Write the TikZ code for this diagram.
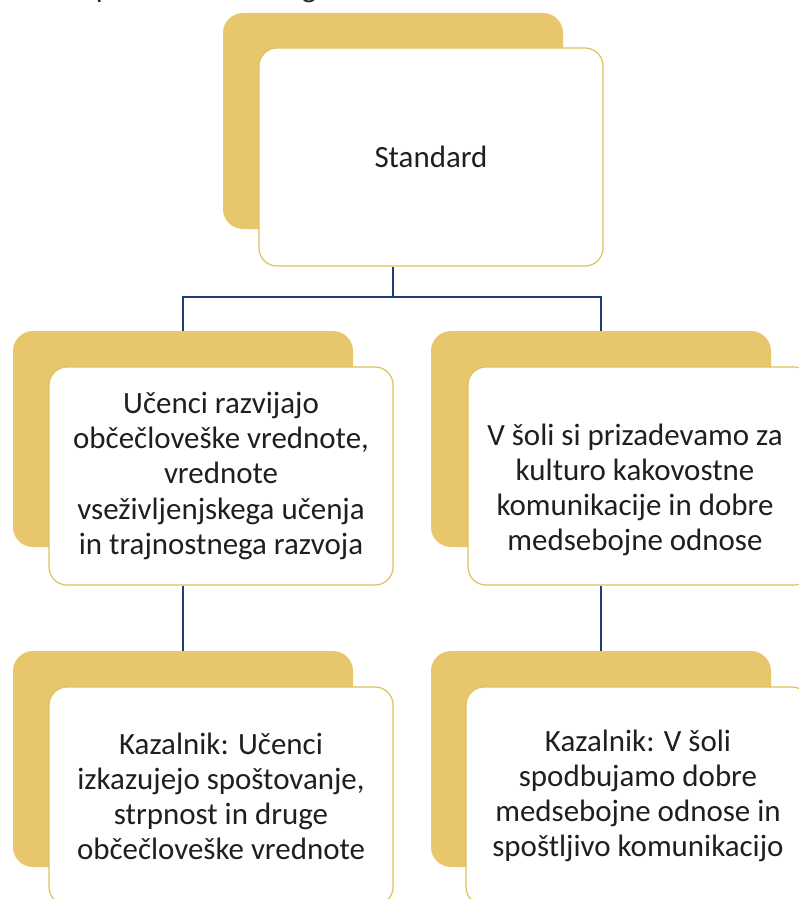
\documentclass[tikz,border=0pt]{standalone}
\usepackage{fontspec}
\setmainfont{Carlito}
\definecolor{cardgold}{RGB}{232,198,108}
\definecolor{cardline}{RGB}{222,194,92}
\definecolor{linkblue}{RGB}{30,62,120}
\begin{document}
\begin{tikzpicture}[x=0.75pt,y=-0.75pt]
	\tikzstyle{backcard}=[fill=cardgold, rounded corners=15pt, minimum width=255pt, minimum height=162pt, inner sep=0pt]
	\tikzstyle{card}=[draw=cardline, line width=0.9pt, fill=white, rounded corners=13.5pt, minimum width=258pt, minimum height=163.5pt, inner sep=0pt, align=center, text=black!88, font=\fontsize{23.2pt}{26.3pt}\selectfont]
	\tikzstyle{link}=[draw=linkblue, line width=1.6pt]
	\useasboundingbox (0,0) rectangle (799,899);
	\clip (0,0) rectangle (799,899);
	% heading, cut off by the page edge
	\node[anchor=base east, inner sep=0pt, text=black!85, font=\fontsize{23.2pt}{26pt}\selectfont] (heading) at (332,-2) {Kazalnik prednostne naloge};
	% standard
	\node[backcard] (stdback) at (393,121) {};
	\node[card] (std) at (431,157) {Standard};
	% goals
	\node[backcard] (goalaback) at (183,439) {};
	\node[card] (goala) at (221,476) {Učenci razvijajo\\občečloveške vrednote,\\vrednote\\vseživljenjskega učenja\\in trajnostnega razvoja};
	\node[backcard] (goalbback) at (601,439) {};
	\node[card] (goalb) at (640,476) {};
	\node[align=center, inner sep=0pt, text=black!88, font=\fontsize{23.2pt}{26.3pt}\selectfont] (goalbtext) at (635,490) {V šoli si prizadevamo za\\kulturo kakovostne\\komunikacije in dobre\\medsebojne odnose};
	% indicators
	\node[backcard] (indaback) at (183,759) {};
	\node[card] (inda) at (221,796) {Kazalnik: Učenci\\izkazujejo spoštovanje,\\strpnost in druge\\občečloveške vrednote};
	\node[backcard] (indbback) at (601,759) {};
	\node[card] (indb) at (638,796) {Kazalnik: V šoli\\spodbujamo dobre\\medsebojne odnose in\\spoštljivo komunikacijo};
	% connectors
	\coordinate (bus) at (393,297);
	\draw[link] (std.south -| bus) -- (bus);
	\draw[link] (goalaback.north) |- (bus) -| (goalbback.north);
	\draw[link] (goala.south -| goalaback) -- (indaback.north);
	\draw[link] (goalb.south -| goalbback) -- (indbback.north);
\end{tikzpicture}
\end{document}
